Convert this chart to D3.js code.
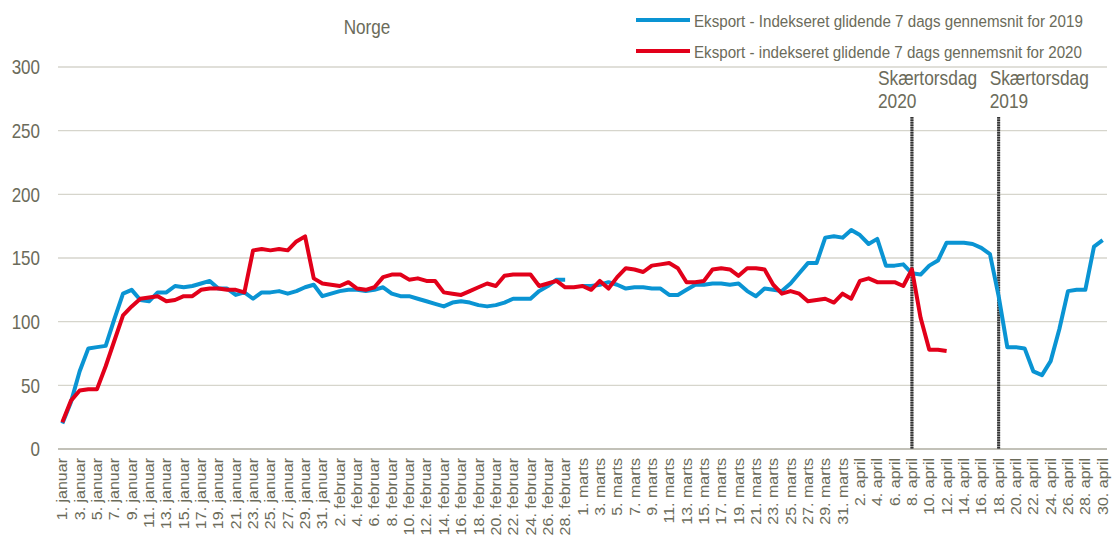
<!DOCTYPE html>
<html>
<head>
<meta charset="utf-8">
<script src="https://cdn.jsdelivr.net/npm/d3@7"></script>
<style>
  body { margin: 0; background: #fff; }
  text { font-family: "Liberation Sans", Arial, sans-serif; fill: #6b6b5a; }
</style>
</head>
<body>
<svg id="chart" width="1115" height="544"></svg>
<script>
// categories: every day jan-apr (2020 calendar, incl. 29. februar)
const months = [["januar", 31], ["februar", 29], ["marts", 31], ["april", 30]];
const days = [];
months.forEach(([m, n]) => { for (let d = 1; d <= n; d++) days.push(`${d}. ${m}`); });

const yTicks = [0, 50, 100, 150, 200, 250, 300];
const seriesNames = [
    "Eksport - Indekseret glidende 7 dags gennemsnit for 2019",
    "Eksport - indekseret glidende 7 dags gennemsnit for 2020"
];
const seriesColors = ["#0a94d3", "#e2001a"];

// 2019 index (no 29. februar)
const eksport2019 = [
    20, 37, 61, 79, 80, 81, 102, 122, 125, 117,
    116, 123, 123, 128, 127, 128, 130, 132, 126, 126,
    121, 123, 118, 123, 123, 124, 122, 124, 127, 129,
    120, 122, 124, 125, 125, 124, 125, 127, 122, 120,
    120, 118, 116, 114, 112, 115, 116, 115, 113, 112,
    113, 115, 118, 118, 118, 124, 128, 133, 133, null,
    128, 128, 129, 131, 129, 126, 127, 127, 126, 126,
    121, 121, 125, 129, 129, 130, 130, 129, 130, 124,
    120, 126, 125, 124, 130, 138, 146, 146, 166, 167,
    166, 172, 168, 161, 165, 144, 144, 145, 138, 137,
    144, 148, 162, 162, 162, 161, 158, 153, 120, 80,
    80, 79, 61, 58, 69, 94, 124, 125, 125, 159, 164
];

// 2020 index (ends 12. april)
const eksport2020 = [
    21, 38, 46, 47, 47, 65, 85, 105, 112, 118,
    119, 120, 116, 117, 120, 120, 125, 126, 126, 125,
    125, 123, 156, 157, 156, 157, 156, 163, 167, 134,
    130, 129, 128, 131, 126, 125, 127, 135, 137, 137,
    133, 134, 132, 132, 123, 122, 121, 124, 127, 130,
    128, 136, 137, 137, 137, 128, 130, 132, 127, 127,
    128, 125, 132, 126, 135, 142, 141, 139, 144, 145,
    146, 142, 131, 131, 132, 141, 142, 141, 136, 142,
    142, 141, 129, 122, 124, 122, 116, 117, 118, 115,
    122, 118, 132, 134, 131, 131, 131, 128, 141, 103,
    78, 78, 77
];

// Skærtorsdag markers
const markers = [
    { day: "8. april", label: ["Skærtorsdag", "2020"], dx: -34 },
    { day: "18. april", label: ["Skærtorsdag", "2019"], dx: -9 }
];

const svg = d3.select("#chart");
const plotLeft = 58, plotRight = 1107, plotTop = 67, plotBottom = 449;

const x = d3.scaleBand().domain(days).range([plotLeft, plotRight]).padding(0);
const y = d3.scaleLinear().domain([0, 300]).range([plotBottom, plotTop]);
const cx = d => x(d) + x.bandwidth() / 2;

// gridlines
svg.append("g")
    .selectAll("line")
    .data(yTicks)
    .enter()
    .append("line")
    .attr("x1", plotLeft)
    .attr("x2", plotRight)
    .attr("y1", d => y(d))
    .attr("y2", d => y(d))
    .attr("stroke", d => d === 0 ? "#aeada0" : "#d6d5cc")
    .attr("stroke-width", 1.3);

// y labels
svg.append("g")
    .selectAll("text")
    .data(yTicks)
    .enter()
    .append("text")
    .attr("transform", d => `translate(40,${y(d)}) scale(0.85,1)`)
    .attr("dy", "0.36em")
    .attr("text-anchor", "end")
    .style("font-size", "20px")
    .text(d => d);

// x labels, every other day
svg.append("g")
    .selectAll("text")
    .data(days.filter((d, i) => i % 2 === 0))
    .enter()
    .append("text")
    .attr("transform", d => `translate(${cx(d)},458) rotate(-90) scale(1,0.9)`)
    .attr("dy", "0.35em")
    .attr("text-anchor", "end")
    .style("font-size", "16px")
    .text(d => d);

// marker lines + labels
markers.forEach(m => {
    const mx = cx(m.day);
    svg.append("line")
        .attr("x1", mx).attr("x2", mx)
        .attr("y1", 117).attr("y2", plotBottom)
        .attr("stroke", "#9a9a9a")
        .attr("stroke-width", 3);
    svg.append("line")
        .attr("x1", mx).attr("x2", mx)
        .attr("y1", 117).attr("y2", plotBottom)
        .attr("stroke", "#333")
        .attr("stroke-width", 3)
        .attr("stroke-dasharray", "1.5,1");
    svg.append("text")
        .attr("transform", `translate(${mx + m.dx},85) scale(0.89,1)`)
        .style("font-size", "19.5px")
        .text(m.label[0]);
    svg.append("text")
        .attr("transform", `translate(${mx + m.dx},108) scale(0.89,1)`)
        .style("font-size", "19.5px")
        .text(m.label[1]);
});

// series lines
const line = d3.line()
    .defined(d => d != null)
    .x((d, i) => cx(days[i]))
    .y(d => y(d));

[eksport2019, eksport2020].forEach((s, k) => {
    svg.append("path")
        .datum(s)
        .attr("fill", "none")
        .attr("stroke", seriesColors[k])
        .attr("stroke-width", 4)
        .attr("stroke-linejoin", "round")
        .attr("d", line);
});

// title
svg.append("text")
    .attr("transform", "translate(367,34) scale(0.88,1)")
    .attr("text-anchor", "middle")
    .style("font-size", "19.5px")
    .text("Norge");

// legend
const legend = svg.append("g");
seriesNames.forEach((name, k) => {
    const ly = k === 0 ? 20 : 51;
    legend.append("line")
        .attr("x1", 636).attr("x2", 690)
        .attr("y1", ly).attr("y2", ly)
        .attr("stroke", seriesColors[k])
        .attr("stroke-width", 4);
    legend.append("text")
        .attr("transform", `translate(694,${ly + 6.5}) scale(0.93,1)`)
        .style("font-size", "16.3px")
        .text(name);
});
</script>
</body>
</html>
